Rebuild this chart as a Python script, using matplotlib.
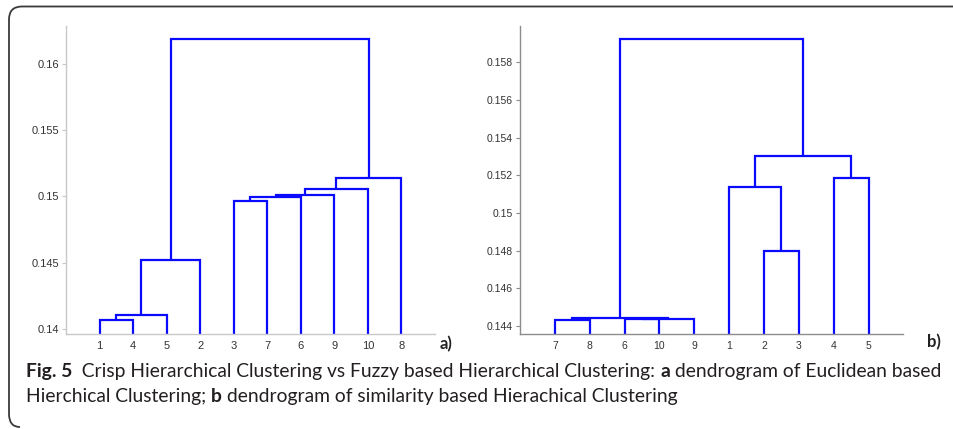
import matplotlib
matplotlib.use("Agg")
import matplotlib.pyplot as plt
from matplotlib.path import Path
from matplotlib.patches import PathPatch
from matplotlib.lines import Line2D

# ---------------- data ----------------
left_order = [1, 4, 5, 2, 3, 7, 6, 9, 10, 8]
# (cluster a, cluster b, height); new clusters get ids 11, 12, ...
left_links = [(1, 4, 0.14066), (11, 5, 0.14106), (12, 2, 0.14520),
              (3, 7, 0.14967), (14, 6, 0.14998), (15, 9, 0.15010),
              (16, 10, 0.15057), (17, 8, 0.15143), (13, 18, 0.16186)]
left_yticks = [0.14, 0.145, 0.15, 0.155, 0.16]
left_yticklabels = ["0.14", "0.145", "0.15", "0.155", "0.16"]
left_ylim = (0.13962, 0.16287)

right_order = [7, 8, 6, 10, 9, 1, 2, 3, 4, 5]
right_links = [(7, 8, 0.14430), (6, 10, 0.14435), (12, 9, 0.14437),
               (11, 13, 0.14442), (2, 3, 0.14800), (1, 15, 0.15136),
               (4, 5, 0.15186), (16, 17, 0.15304), (14, 18, 0.15922)]
right_yticks = [0.144, 0.146, 0.148, 0.15, 0.152, 0.154, 0.156, 0.158]
right_yticklabels = ["0.144", "0.146", "0.148", "0.15", "0.152", "0.154", "0.156", "0.158"]
right_ylim = (0.14358, 0.15993)

caption_line1 = [("Fig. 5", True), ("  Crisp Hierarchical Clustering vs Fuzzy based Hierarchical Clustering: ", False),
                 ("a", True), (" dendrogram of Euclidean based", False)]
caption_line2 = [("Hierchical Clustering; ", False), ("b", True),
                 (" dendrogram of similarity based Hierachical Clustering", False)]

W, H = 954, 429
fig = plt.figure(figsize=(W / 100, H / 100), dpi=100)
fig.patch.set_facecolor("white")

BLUE = "#0a0aff"


def draw_dendrogram(ax, order, links, ylim, color):
    base = ylim[0]
    pos = {leaf: (i + 1, base) for i, leaf in enumerate(order)}
    nid = len(order) + 1
    for a, b, h in links:
        xa, ya = pos[a]
        xb, yb = pos[b]
        ax.plot([xa, xa, xb, xb], [ya, h, h, yb], color=color, lw=1.6,
                solid_joinstyle="miter", solid_capstyle="butt", clip_on=False)
        pos[nid] = ((xa + xb) / 2, h)
        nid += 1


def style_axes(ax, order, yticks, yticklabels, ylim, spine_color, fs):
    ax.set_xlim(0, 11)
    ax.set_ylim(*ylim)
    ax.set_xticks(range(1, len(order) + 1))
    ax.set_xticklabels([str(v) for v in order], fontsize=fs, color="#333333",
                       family="Liberation Sans")
    ax.set_yticks(yticks)
    ax.set_yticklabels(yticklabels, fontsize=fs, color="#333333",
                       family="Liberation Sans")
    ax.tick_params(axis="x", length=0, pad=5)
    ax.tick_params(axis="y", length=3, width=0.8, color=spine_color, pad=2)
    for s in ("top", "right"):
        ax.spines[s].set_visible(False)
    for s in ("left", "bottom"):
        ax.spines[s].set_color(spine_color)
        ax.spines[s].set_linewidth(1.0)
    ax.set_facecolor("none")


axL = fig.add_axes([66 / W, 1 - 334 / H, (435 - 66) / W, (334 - 26) / H])
draw_dendrogram(axL, left_order, left_links, left_ylim, BLUE)
style_axes(axL, left_order, left_yticks, left_yticklabels, left_ylim, "#c8c8c8", 8)

axR = fig.add_axes([520 / W, 1 - 334 / H, (903.5 - 520) / W, (334 - 26) / H])
draw_dendrogram(axR, right_order, right_links, right_ylim, BLUE)
style_axes(axR, right_order, right_yticks, right_yticklabels, right_ylim, "#8c8c8c", 7.5)

fig.text(440 / W, 1 - 344 / H, "a)", fontsize=12, fontweight="bold",
         family="Lato", color="#222222", va="center", ha="left")
fig.text(927 / W, 1 - 342 / H, "b)", fontsize=12, fontweight="bold",
         family="Lato", color="#222222", va="center", ha="left")

# ---------------- border ----------------
def P(x, y):
    return (x / W, 1 - y / H)

verts = [P(954, 6.5), P(22, 6.5), P(9, 6.5), P(9, 19.5), P(9, 414), P(9, 427), P(20, 427)]
codes = [Path.MOVETO, Path.LINETO, Path.CURVE3, Path.CURVE3, Path.LINETO, Path.CURVE3, Path.CURVE3]
fig.add_artist(PathPatch(Path(verts, codes), transform=fig.transFigure,
                         facecolor="none", edgecolor="#3a3a3a", lw=1.3,
                         capstyle="butt", clip_on=False))

# ---------------- caption ----------------
CAP_FONT = "Lato"
renderer = fig.canvas.get_renderer()


def line_width(pieces, fs):
    total = 0
    for txt, bold in pieces:
        t = fig.text(0, 0, txt, fontsize=fs, family=CAP_FONT,
                     fontweight="bold" if bold else "normal")
        total += t.get_window_extent(renderer).width
        t.remove()
    return total


def draw_line(pieces, x0, y, fs):
    x = x0
    for txt, bold in pieces:
        t = fig.text(x / W, 1 - y / H, txt, fontsize=fs, family=CAP_FONT,
                     fontweight="bold" if bold else "normal", color="#231f20",
                     va="baseline", ha="left")
        x += t.get_window_extent(renderer).width


target = 944 - 26
fs0 = 10.0
cap_fs = fs0 * target / line_width(caption_line1, fs0)
draw_line(caption_line1, 26, 377, cap_fs)
draw_line(caption_line2, 26, 402, cap_fs)

fig.savefig("out.png", dpi=100, facecolor="white")
